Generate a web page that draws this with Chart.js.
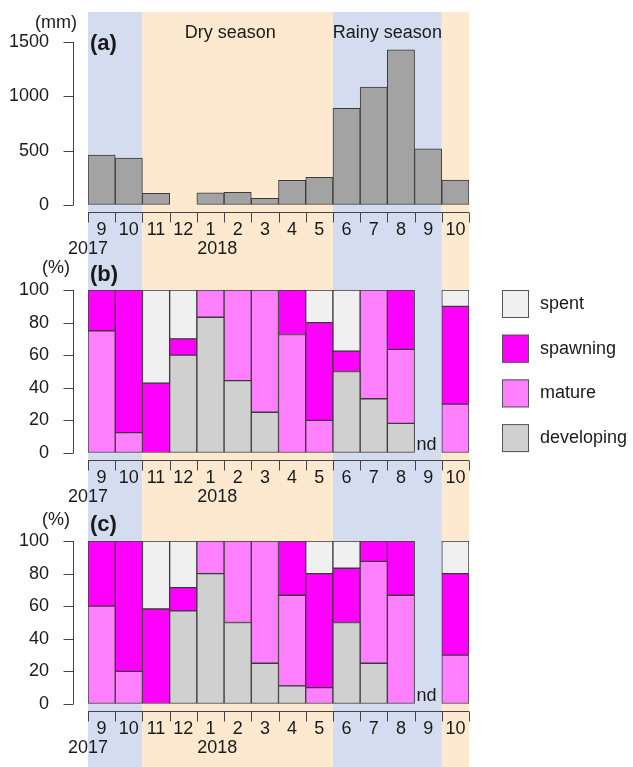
<!DOCTYPE html>
<html>
<head>
<meta charset="utf-8">
<script src="https://cdn.jsdelivr.net/npm/chart.js@4.4.0/dist/chart.umd.min.js"></script>
<style>
  body { margin: 0; background: #fff; }
  #wrap { position: relative; width: 633px; height: 767px; }
  canvas { position: absolute; left: 0; }
</style>
</head>
<body>
<div id="wrap">
  <canvas id="rain" width="633" height="258" style="top:0"></canvas>
  <canvas id="female" width="633" height="250" style="top:258px"></canvas>
  <canvas id="male" width="633" height="259" style="top:508px"></canvas>
</div>
<script>
const months = ['9', '10', '11', '12', '1', '2', '3', '4', '5', '6', '7', '8', '9', '10'];
const years = ['2017', '2018'];
const season = ['rainy', 'rainy', 'dry', 'dry', 'dry', 'dry', 'dry', 'dry', 'dry',
                'rainy', 'rainy', 'rainy', 'rainy', 'dry'];
const seasonNames = ['Dry season', 'Rainy season'];

// monthly rainfall (mm)
const rainfall = [460, 432, 107, 0, 113, 117, 62, 227, 255, 890, 1086, 1429, 518, 230];

// (b) maturity stages, % (null = no data)
const bDeveloping = [0, 0, 0, 60, 83.3, 44.4, 25, 0, 0, 50, 33.3, 18.2, null, 0];
const bMature     = [75, 12.5, 0, 0, 16.7, 55.6, 75, 72.7, 20, 0, 66.7, 45.4, null, 30];
const bSpawning   = [25, 87.5, 42.9, 10, 0, 0, 0, 27.3, 60, 12.5, 0, 36.4, null, 60];
const bSpent      = [0, 0, 57.1, 30, 0, 0, 0, 0, 20, 37.5, 0, 0, null, 10];

// (c) maturity stages, %
const cDeveloping = [0, 0, 0, 57.1, 80, 50, 25, 11.1, 0, 50, 25, 0, null, 0];
const cMature     = [60, 20, 0, 0, 20, 50, 75, 55.6, 10, 0, 62.5, 66.7, null, 30];
const cSpawning   = [40, 80, 58.3, 14.3, 0, 0, 0, 33.3, 70, 33.3, 12.5, 33.3, null, 50];
const cSpent      = [0, 0, 41.7, 28.6, 0, 0, 0, 0, 20, 16.7, 0, 0, null, 20];

Chart.defaults.font.family = '"Liberation Sans", Arial, Helvetica, sans-serif';
Chart.defaults.font.size = 18;
Chart.defaults.color = '#1a1a1a';

const seasonColours = { rainy: '#d3ddef', dry: '#fde9d0' };
const stageColours = { developing: '#d0d0d0', mature: '#ff80ff', spawning: '#ff00ff', spent: '#f0f0f0' };
const ink = '#1a1a1a';

// background bands for the seasons, drawn behind the bars
const seasonBands = {
  id: 'seasonBands',
  beforeDraw(chart, args, o) {
    const { ctx, scales: { x } } = chart;
    ctx.save();
    let start = 0;
    for (let i = 1; i <= season.length; i++) {
      if (i === season.length || season[i] !== season[start]) {
        const l = x.getPixelForValue(start - 0.5), r = x.getPixelForValue(i - 0.5);
        ctx.fillStyle = seasonColours[season[start]];
        ctx.fillRect(l, o.top, r - l, chart.height - o.top);
        start = i;
      }
    }
    ctx.restore();
  }
};

// base-graphics style axes, detached from the plot, plus the panel texts
const panelAxes = {
  id: 'panelAxes',
  afterDraw(chart, args, o) {
    const { ctx, chartArea, scales: { x, y } } = chart;
    ctx.save();
    ctx.strokeStyle = '#444';
    ctx.lineWidth = 1;
    ctx.beginPath();
    const ax = Math.round(chartArea.left - 15) + 0.5;
    ctx.moveTo(ax, y.getPixelForValue(y.min));
    ctx.lineTo(ax, y.getPixelForValue(y.max));
    y.ticks.forEach(t => {
      const py = Math.round(y.getPixelForValue(t.value)) + 0.5;
      ctx.moveTo(ax - 10, py);
      ctx.lineTo(ax, py);
    });
    const y0 = y.getPixelForValue(0);
    const ay = Math.round(y0 + 7) + 0.5;
    ctx.moveTo(x.getPixelForValue(-0.5), ay);
    ctx.lineTo(x.getPixelForValue(months.length - 0.5), ay);
    for (let i = 0; i <= months.length; i++) {
      const px = Math.round(x.getPixelForValue(i - 0.5)) + 0.5;
      ctx.moveTo(px, ay);
      ctx.lineTo(px, ay + 10);
    }
    ctx.stroke();

    ctx.fillStyle = ink;
    ctx.textBaseline = 'middle';
    ctx.textAlign = 'center';
    ctx.font = '18px "Liberation Sans", Arial, sans-serif';
    // years
    ctx.fillText(years[0], x.getPixelForValue(-0.5), y0 + 44);
    ctx.fillText(years[1], x.getPixelForValue(4.25), y0 + 44);
    // unit
    ctx.fillText(o.unit, 56, chartArea.top + o.unitDy);
    // season names
    if (o.seasons) {
      ctx.fillText(seasonNames[0], x.getPixelForValue(4.73), chartArea.top - 9);
      ctx.fillText(seasonNames[1], x.getPixelForValue(10.5), chartArea.top - 9);
    }
    // no data marks
    if (o.nd) {
      ctx.textAlign = 'left';
      ctx.textBaseline = 'alphabetic';
      months.forEach((m, i) => {
        if (chart.data.datasets.every(d => d.data[i] === null)) {
          ctx.fillText('nd', x.getPixelForValue(i - 0.5) + 2, y0 - 3);
        }
      });
    }
    // panel tag
    ctx.textAlign = 'left';
    ctx.textBaseline = 'middle';
    ctx.font = 'bold 22px "Liberation Sans", Arial, sans-serif';
    ctx.fillText(o.tag, 90, chartArea.top + o.tagDy);
    ctx.restore();
  }
};

// key of the stages, to the right of panel (b)
const stageKey = {
  id: 'stageKey',
  afterDraw(chart, args, o) {
    if (!o.show) return;
    const { ctx } = chart;
    ctx.save();
    ctx.font = '18px "Liberation Sans", Arial, sans-serif';
    ctx.textBaseline = 'middle';
    ctx.textAlign = 'left';
    chart.data.datasets.slice().reverse().forEach((d, i) => {
      const cy = 46 + i * 44.7;
      ctx.fillStyle = d.backgroundColor;
      ctx.fillRect(502, cy - 14, 27, 28);
      ctx.strokeStyle = '#555';
      ctx.strokeRect(502.5, cy - 13.5, 26, 27);
      ctx.fillStyle = ink;
      ctx.fillText(d.label, 540, cy);
    });
    ctx.restore();
  }
};

function panel(id, datasets, yMax, step, plotTop, plotBottom, extra) {
  const canvas = document.getElementById(id);
  return new Chart(canvas, {
    type: 'bar',
    data: { labels: months, datasets: datasets },
    options: {
      responsive: false,
      animation: false,
      layout: { padding: { left: 0, right: 164, top: plotTop, bottom: 0 } },
      datasets: { bar: { barPercentage: 1, categoryPercentage: 1, borderWidth: 1, borderColor: '#3a3a3a', borderSkipped: false } },
      scales: {
        x: {
          stacked: true,
          offset: true,
          grid: { display: false, drawTicks: false },
          border: { display: false },
          ticks: { autoSkip: false, maxRotation: 0, padding: 14, color: ink },
          afterFit: s => { s.height = canvas.height - plotBottom; }
        },
        y: {
          stacked: true,
          min: 0,
          max: yMax,
          // invisible tick marks only push the labels away from the plot
          grid: { drawOnChartArea: false, drawTicks: true, tickLength: 39, color: 'rgba(0,0,0,0)' },
          border: { display: false },
          ticks: { stepSize: step, padding: 0, color: ink, callback: v => String(v) },
          afterFit: s => { s.width = 88; }
        }
      },
      plugins: {
        legend: { display: false },
        tooltip: { enabled: false },
        seasonBands: { top: extra.bandTop },
        panelAxes: extra,
        stageKey: { show: !!extra.key }
      }
    },
    plugins: [seasonBands, panelAxes, stageKey]
  });
}

function stages(dev, mat, spa, spe) {
  return [
    { label: 'developing', data: dev, backgroundColor: stageColours.developing },
    { label: 'mature', data: mat, backgroundColor: stageColours.mature },
    { label: 'spawning', data: spa, backgroundColor: stageColours.spawning },
    { label: 'spent', data: spe, backgroundColor: stageColours.spent }
  ];
}

panel('rain', [{ label: 'Rainfall', data: rainfall, backgroundColor: '#a3a3a3' }],
  1500, 500, 42, 205,
  { bandTop: 12, unit: '(mm)', unitDy: -19, tag: '(a)', tagDy: 2, seasons: true });

panel('female', stages(bDeveloping, bMature, bSpawning, bSpent),
  100, 20, 32, 195,
  { bandTop: 0, unit: '(%)', unitDy: -22, tag: '(b)', tagDy: -15, nd: true, key: true });

panel('male', stages(cDeveloping, cMature, cSpawning, cSpent),
  100, 20, 33, 196,
  { bandTop: 0, unit: '(%)', unitDy: -21, tag: '(c)', tagDy: -16, nd: true });
</script>
</body>
</html>
